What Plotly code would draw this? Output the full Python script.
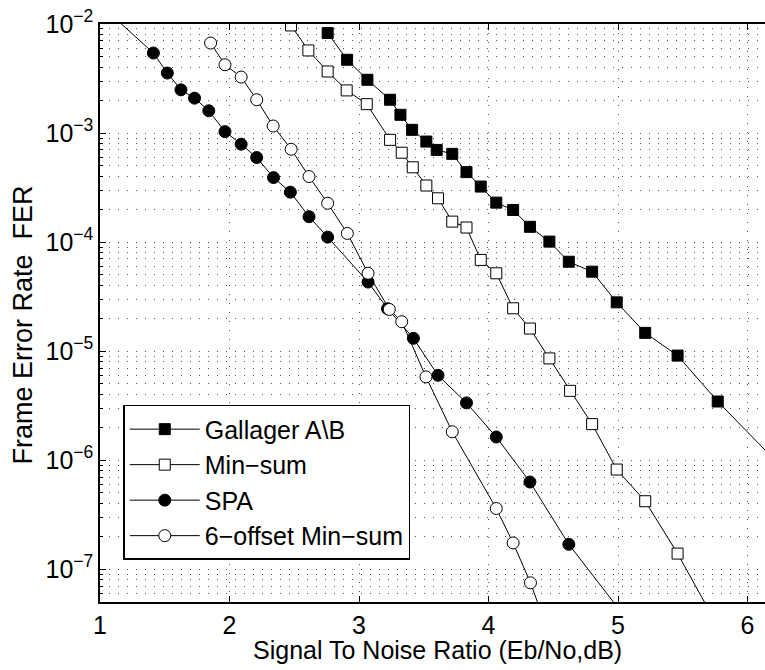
import plotly.graph_objects as go

# ---------------- data ----------------
gallager_x = [2.758, 2.908, 3.065, 3.24, 3.32, 3.41, 3.52, 3.60, 3.72, 3.83, 3.94,
              4.06, 4.19, 4.32, 4.47, 4.62, 4.80, 4.99, 5.21, 5.46, 5.77, 6.30]
gallager_y = [8.26e-3, 4.7e-3, 3.08e-3, 2.02e-3, 1.47e-3, 1.07e-3, 8.35e-4, 7.0e-4,
              6.44e-4, 4.38e-4, 3.23e-4, 2.30e-4, 1.97e-4, 1.38e-4, 1.01e-4, 6.6e-5,
              5.35e-5, 2.8e-5, 1.47e-5, 9.1e-6, 3.45e-6, 7.8e-7]

minsum_x = [2.475, 2.609, 2.758, 2.905, 3.06, 3.24, 3.33, 3.415, 3.52, 3.61, 3.72,
            3.83, 3.94, 4.06, 4.19, 4.32, 4.47, 4.63, 4.80, 4.99, 5.21, 5.46, 5.80]
minsum_y = [9.7e-3, 5.72e-3, 3.67e-3, 2.46e-3, 1.84e-3, 8.66e-4, 6.6e-4, 4.85e-4,
            3.3e-4, 2.52e-4, 1.54e-4, 1.36e-4, 6.86e-5, 5.17e-5, 2.47e-5, 1.61e-5,
            8.57e-6, 4.32e-6, 2.14e-6, 8.2e-7, 4.2e-7, 1.39e-7, 2.6e-8]

spa_x = [1.0, 1.412, 1.52, 1.625, 1.73, 1.84, 1.965, 2.09, 2.21, 2.34, 2.47, 2.614,
         2.758, 3.07, 3.22, 3.42, 3.61, 3.83, 4.06, 4.32, 4.62, 5.10]
spa_y = [1.51e-2, 5.42e-3, 3.55e-3, 2.49e-3, 2.09e-3, 1.6e-3, 1.03e-3, 7.9e-4,
         5.96e-4, 3.9e-4, 2.87e-4, 1.71e-4, 1.11e-4, 4.3e-5, 2.45e-5, 1.31e-5,
         6.0e-6, 3.35e-6, 1.63e-6, 6.3e-7, 1.69e-7, 3.1e-8]

offset_x = [1.854, 1.965, 2.09, 2.21, 2.337, 2.476, 2.614, 2.758, 2.91, 3.07, 3.234,
            3.33, 3.517, 3.72, 4.06, 4.19, 4.324, 4.45]
offset_y = [6.69e-3, 4.23e-3, 3.26e-3, 2.02e-3, 1.16e-3, 7.1e-4, 3.99e-4, 2.27e-4,
            1.2e-4, 5.17e-5, 2.41e-5, 1.86e-5, 5.8e-6, 1.82e-6, 3.6e-7, 1.74e-7,
            7.5e-8, 2.9e-8]

series_names = ["Gallager A\\B", "Min\u2212sum", "SPA", "6\u2212offset Min\u2212sum"]

x_ticks = [1, 2, 3, 4, 5, 6]
y_ticks = [1e-7, 1e-6, 1e-5, 1e-4, 1e-3, 1e-2]
y_ticktext = ["10<sup>\u22127</sup>", "10<sup>\u22126</sup>", "10<sup>\u22125</sup>",
              "10<sup>\u22124</sup>", "10<sup>\u22123</sup>", "10<sup>\u22122</sup>"]
y_minor = [m * 10.0 ** e for e in range(-8, -2) for m in range(2, 10)]

x_title = "Signal To Noise Ratio (Eb/No,dB)"
y_title = "Frame Error Rate\u00a0\u00a0FER"

# ---------------- figure ----------------
FONT = "Liberation Sans, Arial, Helvetica, sans-serif"
FS = 25
DOT = "1px,8px"
GRIDC = "#555555"

fig = go.Figure()

styles = [
    (gallager_x, gallager_y, "square", "black", 11),
    (minsum_x, minsum_y, "square", "white", 11),
    (spa_x, spa_y, "circle", "black", 12),
    (offset_x, offset_y, "circle", "white", 12),
]
for i, ((xs, ys, sym, fill, sz), name) in enumerate(zip(styles, series_names)):
    fig.add_trace(go.Scatter(
        x=xs, y=ys, name=name, mode="lines+markers",
        line=dict(color="black", width=1),
        marker=dict(symbol=sym, size=sz, color=fill,
                    line=dict(color="black", width=1)),
        legendgroup=f"g{i}",
    ))

fig.update_layout(
    width=765, height=670,
    margin=dict(l=100, r=0, t=24, b=68, autoexpand=False),
    paper_bgcolor="white", plot_bgcolor="white",
    font=dict(family=FONT, size=FS, color="black"),
    showlegend=True,
    legend=dict(
        x=0.035, y=0.341, xanchor="left", yanchor="top",
        bgcolor="white", bordercolor="black", borderwidth=1.5,
        font=dict(family=FONT, size=FS, color="black"),
        tracegroupgap=0, itemwidth=70,
    ),
    xaxis=dict(
        type="linear", range=[1, 6.135], automargin=False,
        tickvals=x_ticks, ticktext=[str(v) for v in x_ticks],
        ticks="inside", ticklen=6, tickcolor="black", tickwidth=1,
        showline=True, linecolor="black", linewidth=1.5, mirror="allticks",
        showgrid=True, gridcolor=GRIDC, griddash=DOT, gridwidth=1,
        zeroline=False, ticklabeloverflow="allow",
        tickfont=dict(size=FS),
    ),
    yaxis=dict(
        type="log", range=[-7.30103, -2], automargin=False,
        tickvals=y_ticks, ticktext=y_ticktext,
        ticks="inside", ticklen=6, tickcolor="black", tickwidth=1,
        showline=True, linecolor="black", linewidth=1.5, mirror=False,
        showgrid=True, gridcolor=GRIDC, griddash=DOT, gridwidth=1,
        zeroline=False, ticklabeloverflow="allow",
        minor=dict(tickvals=y_minor, ticks="inside", ticklen=3,
                   tickcolor="black", showgrid=True, gridcolor=GRIDC,
                   griddash=DOT, gridwidth=1),
        tickfont=dict(size=FS),
    ),
    annotations=[
        dict(text=x_title, xref="paper", yref="paper", x=0.5075, y=-0.0825,
             xanchor="center", yanchor="middle", showarrow=False,
             font=dict(family=FONT, size=FS, color="black")),
        dict(text=y_title, xref="paper", yref="paper", x=-0.1158, y=0.48,
             xanchor="center", yanchor="middle", showarrow=False, textangle=-90,
             font=dict(family=FONT, size=27, color="black")),
    ],
)

# remove the browser's default 8px page margin so the figure fills the window
fig.write_html("out.html",
               config={"displayModeBar": False},
               post_script="document.body.style.margin='0px';"
                           "document.body.style.overflow='hidden';")
